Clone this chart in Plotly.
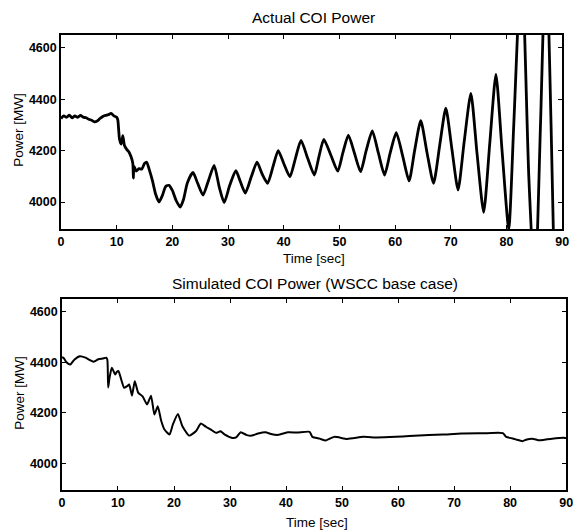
import plotly.graph_objects as go

# ---- Data: Actual COI Power ----
actual_t = [0, 0.5, 1, 1.5, 2, 2.5, 3, 3.5, 4, 4.5, 5, 5.5, 6, 6.5, 7, 7.5, 8, 8.5, 9, 9.5,
            10, 10.2, 10.5, 10.8, 11.1, 11.4, 11.8, 12.2, 12.6, 12.9, 13.0, 13.1, 13.5, 14, 14.5,
            15.0, 15.4, 15.8, 16.4, 17, 17.6, 18.2, 18.8, 19.4, 20, 20.7, 21.4, 22, 22.7, 23.7,
            24.5, 25.5, 26.5, 27.5, 28.4, 29.3, 30.3, 31.4, 32.2, 33.1, 34.2, 35.2, 36.1, 37.1,
            38.1, 39.0, 40.0, 41.1, 42.1, 43.1, 44.3, 45.5, 46.3, 47.2, 48.5, 49.7, 50.6, 51.6,
            52.7, 53.8, 54.8, 55.9, 57.0, 58.1, 59.1, 60.2, 61.4, 62.5, 63.5, 64.6, 65.7, 66.9,
            68.0, 69.1, 70.2, 71.3, 72.4, 73.6, 74.7, 75.9, 77.0, 78.1, 79.2, 80.4, 81.3, 82.7,
            84.0, 85.1, 86.1, 87.1, 88.0, 88.6]
actual_p = [4325, 4335, 4330, 4338, 4328, 4335, 4330, 4337, 4330, 4328, 4322, 4318, 4312, 4315,
            4325, 4333, 4337, 4340, 4345, 4335,
            4330, 4320, 4245, 4225, 4258, 4220, 4205, 4195, 4175, 4150, 4093, 4140, 4120, 4130, 4128,
            4150, 4155, 4130, 4085, 4030, 4000, 4025, 4060, 4065, 4045, 4005, 3980, 4010, 4075, 4115,
            4075, 4027, 4085, 4143, 4060, 3998, 4065, 4122, 4080, 4035, 4100, 4155, 4110, 4073,
            4140, 4200, 4150, 4098, 4170, 4240, 4170, 4105, 4175, 4244, 4180, 4120, 4190, 4260,
            4190, 4118, 4200, 4277, 4190, 4105, 4190, 4270, 4175, 4082, 4200, 4317, 4195, 4073,
            4220, 4365, 4205, 4047, 4235, 4423, 4190, 3960, 4230, 4497, 4200, 3895, 4300, 4950,
            4100, 3650, 4300, 5000, 4300, 3700]

# ---- Data: Simulated COI Power (WSCC base case) ----
sim_t = [0, 0.3, 0.8, 1.5, 2.2, 3.2, 4.2, 5.0, 5.6, 6.5, 7.3, 7.9, 8.1, 8.25, 8.5, 8.9, 9.5, 9.8,
         10.1, 10.6, 11.1, 11.6, 12.0, 12.5, 13.0, 13.6, 14.4, 15.2, 15.9, 16.5, 17.1, 17.7, 18.3,
         19.2, 19.8, 20.7, 21.5, 22.7, 23.9, 24.8, 25.7, 26.5, 27.5, 28.3, 29.0, 30.4, 31.1, 31.9,
         33.0, 33.9, 35.0, 36.3, 37.5, 38.6, 40.4, 42.0, 44.2, 44.7, 46.0, 47.1, 48.6, 50.9, 53.8,
         56.0, 59.6, 62.0, 65.5, 68.0, 71.3, 75.0, 78.7, 79.3, 80.2, 81.0, 82.2, 83.0, 84.2, 85.0,
         85.9, 87.5, 89.8, 90]
sim_p = [4420, 4417, 4400, 4391, 4410, 4424, 4418, 4408, 4402, 4412, 4415, 4418, 4410, 4300, 4340,
         4378, 4352, 4362, 4365, 4330, 4299, 4305, 4312, 4268, 4325, 4280, 4265, 4233, 4268, 4193,
         4226, 4170, 4134, 4114, 4154, 4195, 4147, 4110, 4127, 4158, 4145, 4135, 4121, 4127, 4115,
         4101, 4103, 4123, 4112, 4110, 4118, 4123, 4115, 4113, 4123, 4122, 4125, 4105, 4098, 4091,
         4105, 4097, 4105, 4103, 4105, 4108, 4112, 4114, 4118, 4119, 4120, 4105, 4100, 4095, 4088,
         4095, 4097, 4092, 4093, 4098, 4101, 4100]

x_ticks = [0, 10, 20, 30, 40, 50, 60, 70, 80, 90]
y_ticks = [4000, 4200, 4400, 4600]

W, H = 581, 531
FONT = "Liberation Sans"

fig = go.Figure()
fig.add_trace(go.Scatter(x=actual_t, y=actual_p, mode="lines",
                         line=dict(color="black", width=2.8, shape="spline", smoothing=0.6),
                         xaxis="x", yaxis="y", showlegend=False, hoverinfo="skip"))
fig.add_trace(go.Scatter(x=sim_t, y=sim_p, mode="lines",
                         line=dict(color="black", width=2.0, shape="spline", smoothing=0.5),
                         xaxis="x2", yaxis="y2", showlegend=False, hoverinfo="skip"))

axis_common = dict(showline=True, linecolor="black", linewidth=1.5, mirror="ticks",
                   ticks="inside", ticklen=4, tickwidth=1.2, tickcolor="black",
                   showgrid=False, zeroline=False,
                   tickfont=dict(family=FONT, size=12.5, color="black", weight="bold"))

fig.update_layout(
    width=W, height=H,
    margin=dict(l=0, r=0, t=0, b=0),
    paper_bgcolor="white", plot_bgcolor="white",
    xaxis=dict(domain=[59 / W, 569 / W], range=[0, 90], tickvals=x_ticks, anchor="y", **axis_common),
    yaxis=dict(domain=[1 - 229 / H, 1 - 35 / H], range=[3895, 4650], tickvals=y_ticks, anchor="x", **axis_common),
    xaxis2=dict(domain=[60 / W, 573 / W], range=[0, 90], tickvals=x_ticks, anchor="y2", **axis_common),
    yaxis2=dict(domain=[1 - 490 / H, 1 - 299 / H], range=[3895, 4650], tickvals=y_ticks, anchor="x2", **axis_common),
)

def ann(text, xpx, ypx, size, angle=0):
    fig.add_annotation(text=text, xref="paper", yref="paper", x=xpx / W, y=1 - ypx / H,
                       xanchor="center", yanchor="middle", showarrow=False, textangle=angle,
                       font=dict(family=FONT, size=size, color="black"))

ann("Actual COI Power", 316, 17, 15.5)
ann("Simulated COI Power (WSCC base case)", 317.5, 283, 15.5)
ann("Time [sec]", 316, 258, 13.5)
ann("Time [sec]", 320, 522, 13.5)
ann("Power [MW]", 15, 130, 13.5, -90)
ann("Power [MW]", 16, 393, 13.5, -90)

fig.write_html("out.html", config={"displayModeBar": False},
               post_script="document.body.style.margin='0';document.body.style.padding='0';"
                           "document.documentElement.style.overflow='hidden';")
